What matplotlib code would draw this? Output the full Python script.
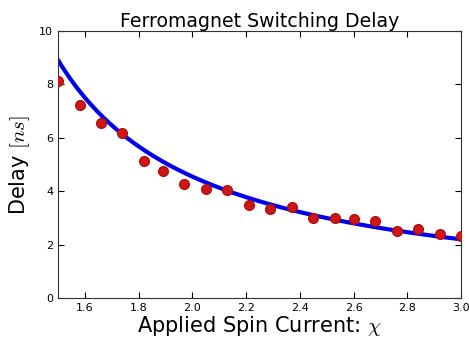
import numpy as np
import matplotlib
matplotlib.use('Agg')
import matplotlib.pyplot as plt

plt.rcParams['mathtext.fontset'] = 'cm'

# measured switching delays
chi = [1.50, 1.58, 1.66, 1.74, 1.82, 1.89, 1.97, 2.05, 2.13, 2.21,
       2.29, 2.37, 2.45, 2.53, 2.60, 2.68, 2.76, 2.84, 2.92, 3.00]
delay = [8.13, 7.23, 6.55, 6.17, 5.15, 4.77, 4.27, 4.10, 4.05, 3.50,
         3.35, 3.40, 3.00, 3.00, 2.95, 2.90, 2.50, 2.60, 2.40, 2.33]

# fit: delay = fit_a / (chi - fit_x0) + fit_c
fit_a = 5.07
fit_x0 = 0.948
fit_c = -0.27

fig = plt.figure(figsize=(4.69, 3.45), dpi=100)
ax = fig.add_axes([0.1237, 0.136, 0.8593, 0.774])

xf = np.linspace(1.5, 3.0, 200)
ax.plot(xf, fit_a / (xf - fit_x0) + fit_c, color='#0000ee', lw=3, zorder=2)
ax.plot(chi, delay, 'o', color='#d01515', mec='#b01010', ms=7, zorder=3)

ax.set_xlim(1.5, 3.0)
ax.set_ylim(0, 10)
ax.set_xticks([1.6, 1.8, 2.0, 2.2, 2.4, 2.6, 2.8, 3.0])
ax.set_yticks([0, 2, 4, 6, 8, 10])
ax.tick_params(direction='in', top=True, right=True, labelsize=8, length=4)
for s in ax.spines.values():
    s.set_color('#333333')

ax.set_title("Ferromagnet Switching Delay", fontsize=13.6, pad=3)
ax.set_xlabel(r"Applied Spin Current: $\chi$", fontsize=15, labelpad=1)
ax.set_ylabel(r"Delay $[ns]$", fontsize=15, labelpad=5)

fig.savefig('out.png', dpi=100)
